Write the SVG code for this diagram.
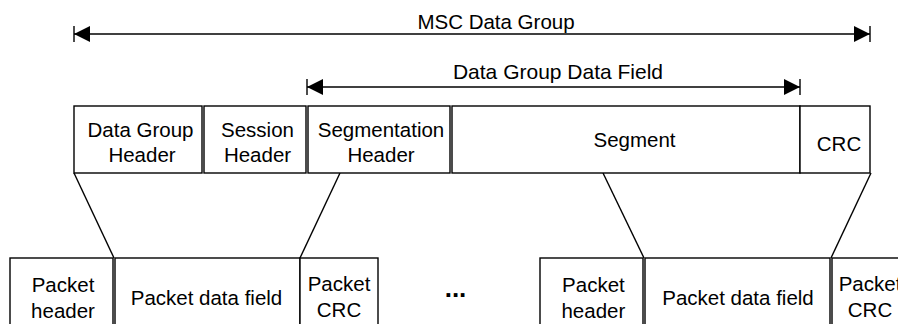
<svg xmlns="http://www.w3.org/2000/svg" width="898" height="324" viewBox="0 0 898 324">
<style>
text{font-family:"Liberation Sans",Arial,sans-serif;font-size:20.5px;fill:#000;text-anchor:middle}
.box{fill:#fff;stroke:#000;stroke-width:1.4}
.ln{stroke:#000;stroke-width:1.4;fill:none}
.dots{font-weight:bold;font-size:26px}
</style>
<defs>
<marker id="ah" viewBox="0 0 16 16" refX="16" refY="8" markerWidth="16" markerHeight="16" markerUnits="userSpaceOnUse" orient="auto-start-reverse">
<path d="M0,0 L16,8 L0,16 Z" fill="#000"/>
</marker>
</defs>
<g id="connectors">
<line class="ln" x1="74" y1="34" x2="870" y2="34" marker-start="url(#ah)" marker-end="url(#ah)"/>
<line class="ln" x1="74" y1="26" x2="74" y2="42"/>
<line class="ln" x1="870" y1="26" x2="870" y2="42"/>
<line class="ln" x1="307" y1="87" x2="800" y2="87" marker-start="url(#ah)" marker-end="url(#ah)"/>
<line class="ln" x1="307" y1="79" x2="307" y2="95"/>
<line class="ln" x1="800" y1="79" x2="800" y2="95"/>
<line class="ln" x1="74" y1="173" x2="114" y2="258"/>
<line class="ln" x1="340" y1="173" x2="300" y2="258"/>
<line class="ln" x1="603" y1="173" x2="644" y2="258"/>
<line class="ln" x1="871" y1="173" x2="831" y2="258"/>
</g>
<g id="label-msc"><text x="496" y="28.5">MSC Data Group</text></g>
<g id="label-dgdf"><text x="558" y="79" style="font-size:21px">Data Group Data Field</text></g>
<g id="dg-header"><rect class="box" x="74" y="106" width="128" height="67"/><text x="140.5" y="136.7">Data Group</text><text x="142" y="161.7">Header</text></g>
<g id="session-header"><rect class="box" x="204" y="106" width="102" height="67"/><text x="257.5" y="136.7">Session</text><text x="257.5" y="161.7">Header</text></g>
<g id="seg-header"><rect class="box" x="308" y="106" width="142" height="67"/><text x="381" y="136.7">Segmentation</text><text x="381" y="161.7">Header</text></g>
<g id="segment"><rect class="box" x="452" y="106" width="348" height="67"/><text x="634.5" y="146.7">Segment</text></g>
<g id="crc"><rect class="box" x="800" y="106" width="70" height="67"/><text x="839" y="150.7">CRC</text></g>
<g id="p1-header"><rect class="box" x="10" y="258" width="103" height="80"/><text x="63" y="291.7">Packet</text><text x="63" y="318.3">header</text></g>
<g id="p1-data"><rect class="box" x="115" y="258" width="185" height="80"/><text x="206.5" y="305">Packet data field</text></g>
<g id="p1-crc"><rect class="box" x="300" y="258" width="78" height="80"/><text x="339" y="290.5">Packet</text><text x="339" y="317">CRC</text></g>
<g id="ellipsis"><text class="dots" x="455.5" y="297">...</text></g>
<g id="p2-header"><rect class="box" x="540" y="258" width="103" height="80"/><text x="593.4" y="291.7">Packet</text><text x="593.4" y="318.3">header</text></g>
<g id="p2-data"><rect class="box" x="645" y="258" width="185" height="80"/><text x="738" y="305">Packet data field</text></g>
<g id="p2-crc"><rect class="box" x="832" y="258" width="78" height="80"/><text x="870" y="290.5">Packet</text><text x="870" y="317">CRC</text></g>
</svg>
